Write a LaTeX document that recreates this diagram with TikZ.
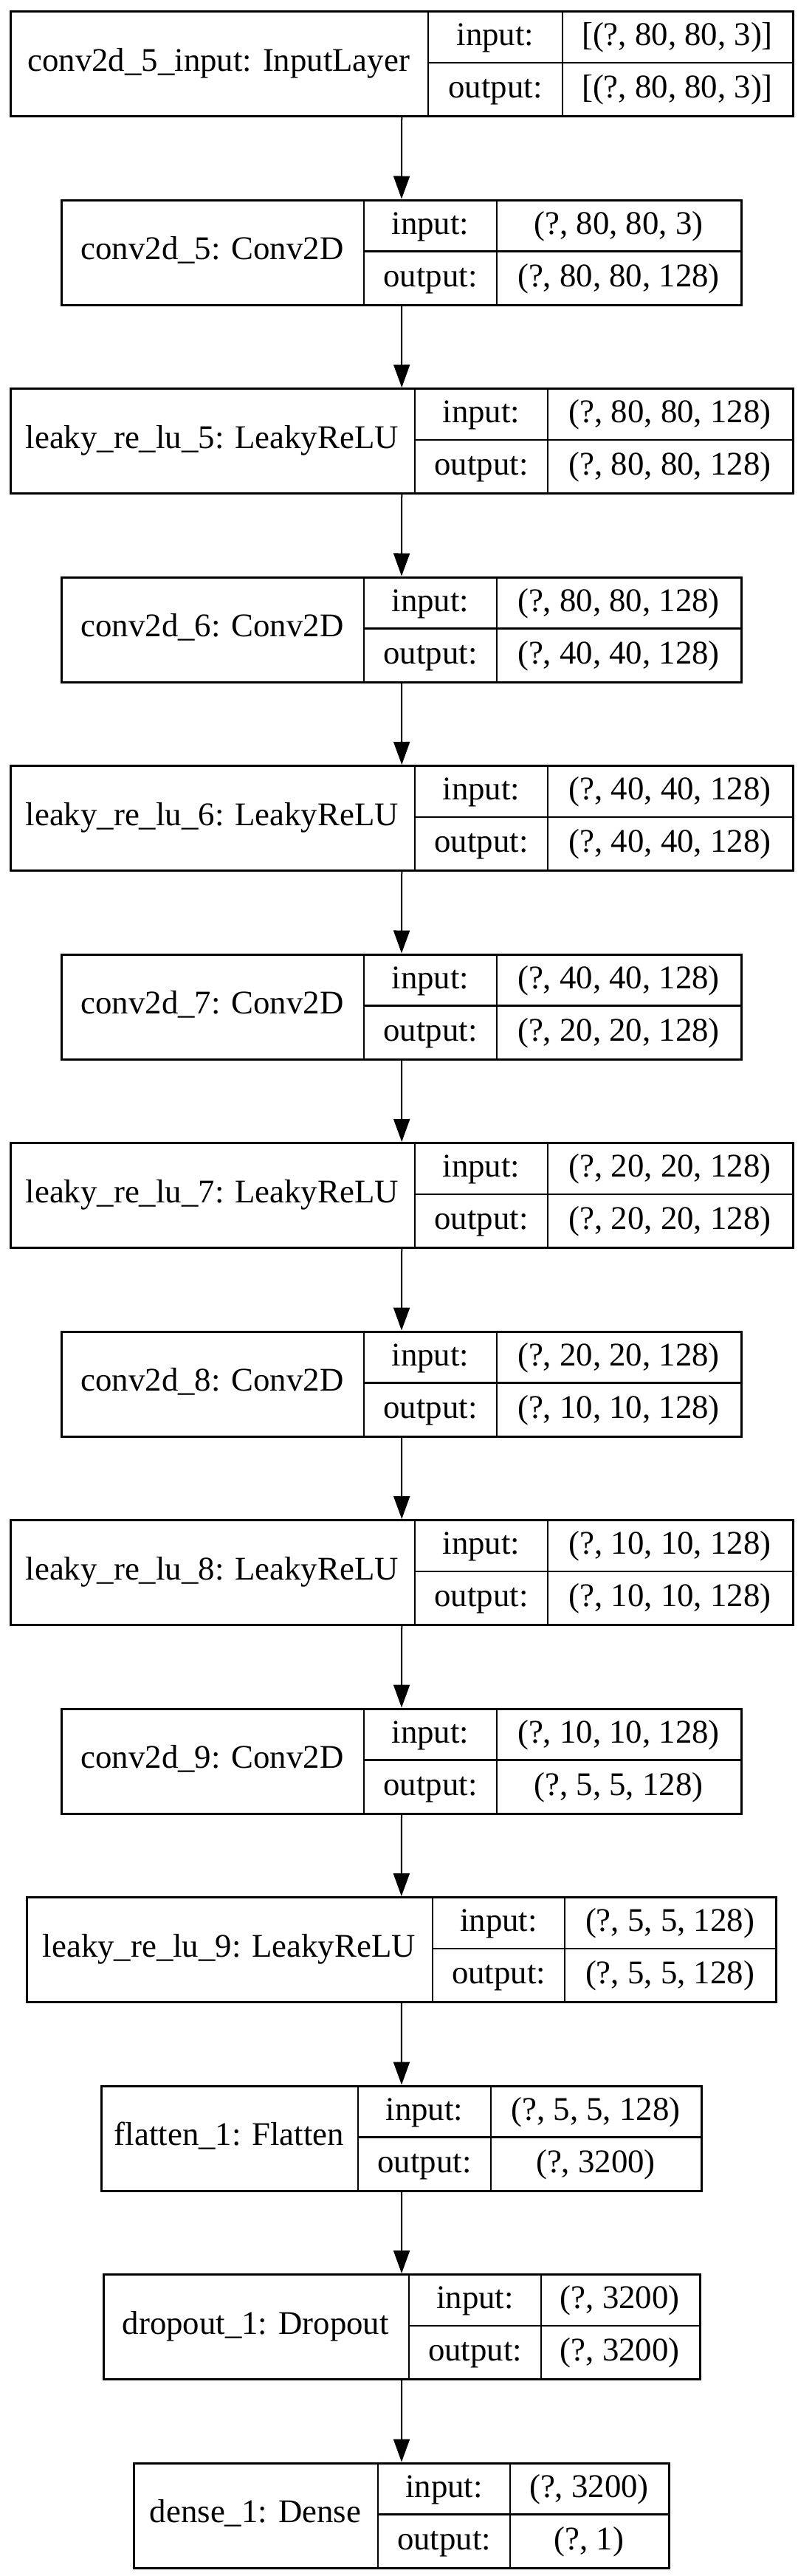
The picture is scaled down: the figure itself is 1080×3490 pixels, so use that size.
\documentclass[tikz,border=0pt]{standalone}
\usepackage{fontspec}
\setmainfont{Liberation Serif}
\usetikzlibrary{arrows.meta}
\tikzset{
  boxnode/.style={draw=black, line width=3pt, rectangle, inner sep=0pt, anchor=north west, fill=white},
  cellline/.style={draw=black, line width=2.5pt},
  txt/.style={inner sep=0pt, anchor=base, font=\fontsize{44.8}{50}\selectfont},
  arr/.style={draw=black, line width=2pt, -{Triangle[length=31pt, width=22pt]}}
}
% #1 name, #2 top, #3 left, #4 right, #5 div1, #6 div2, #7 label, #8 in, #9 out
\newcommand{\layerbox}[9]{%
  \node (#1) [boxnode, minimum width={#4-#3}, minimum height=142] at (#3,#2) {};
  \draw[cellline] (#5,#2) -- (#5,{#2+142});
  \draw[cellline] (#6,#2) -- (#6,{#2+142});
  \draw[cellline] (#5,{#2+71}) -- (#4,{#2+71});
  \node (#1l) [txt] at ({(#3+#5)/2},{#2+71+11}) {#7};
  \node (#1a) [txt] at ({(#5+#6)/2},{#2+35.5+12}) {input:};
  \node (#1b) [txt] at ({(#5+#6)/2},{#2+106.5+12}) {output:};
  \node (#1c) [txt] at ({(#6+#4)/2},{#2+35.5+12}) {#8};
  \node (#1d) [txt] at ({(#6+#4)/2},{#2+106.5+12}) {#9};
}
\begin{document}
\begin{tikzpicture}[x=1pt, y=-1pt]
\useasboundingbox[fill=white] (0,0) rectangle (1080,3490);
\layerbox{L1}{14}{12.5}{1073}{580}{762}{conv2d\_5\_input: InputLayer}{[(?, 80, 80, 3)]}{[(?, 80, 80, 3)]}
\layerbox{L2}{269.5}{82}{1003}{493}{673}{conv2d\_5: Conv2D}{(?, 80, 80, 3)}{(?, 80, 80, 128)}
\layerbox{L3}{525}{12.5}{1073}{562}{742}{leaky\_re\_lu\_5: LeakyReLU}{(?, 80, 80, 128)}{(?, 80, 80, 128)}
\layerbox{L4}{780.5}{82}{1003}{493}{673}{conv2d\_6: Conv2D}{(?, 80, 80, 128)}{(?, 40, 40, 128)}
\layerbox{L5}{1036}{12.5}{1073}{562}{742}{leaky\_re\_lu\_6: LeakyReLU}{(?, 40, 40, 128)}{(?, 40, 40, 128)}
\layerbox{L6}{1291.5}{82}{1003}{493}{673}{conv2d\_7: Conv2D}{(?, 40, 40, 128)}{(?, 20, 20, 128)}
\layerbox{L7}{1547}{12.5}{1073}{562}{742}{leaky\_re\_lu\_7: LeakyReLU}{(?, 20, 20, 128)}{(?, 20, 20, 128)}
\layerbox{L8}{1802.5}{82}{1003}{493}{673}{conv2d\_8: Conv2D}{(?, 20, 20, 128)}{(?, 10, 10, 128)}
\layerbox{L9}{2058}{12.5}{1073}{562}{742}{leaky\_re\_lu\_8: LeakyReLU}{(?, 10, 10, 128)}{(?, 10, 10, 128)}
\layerbox{L10}{2313.5}{82}{1003}{493}{673}{conv2d\_9: Conv2D}{(?, 10, 10, 128)}{(?, 5, 5, 128)}
\layerbox{L11}{2569}{34.6}{1050}{586}{765}{leaky\_re\_lu\_9: LeakyReLU}{(?, 5, 5, 128)}{(?, 5, 5, 128)}
\layerbox{L12}{2824.5}{136}{949}{485}{665}{flatten\_1: Flatten}{(?, 5, 5, 128)}{(?, 3200)}
\layerbox{L13}{3080}{138.5}{946.6}{554}{733}{dropout\_1: Dropout}{(?, 3200)}{(?, 3200)}
\layerbox{L14}{3335.5}{180}{905}{512}{691}{dense\_1: Dense}{(?, 3200)}{(?, 1)}
\foreach \a/\b in {L1/L2,L2/L3,L3/L4,L4/L5,L5/L6,L6/L7,L7/L8,L8/L9,L9/L10,L10/L11,L11/L12,L12/L13,L13/L14}
  \draw[arr] (\a.south) -- (\b.north);
\end{tikzpicture}
\end{document}
